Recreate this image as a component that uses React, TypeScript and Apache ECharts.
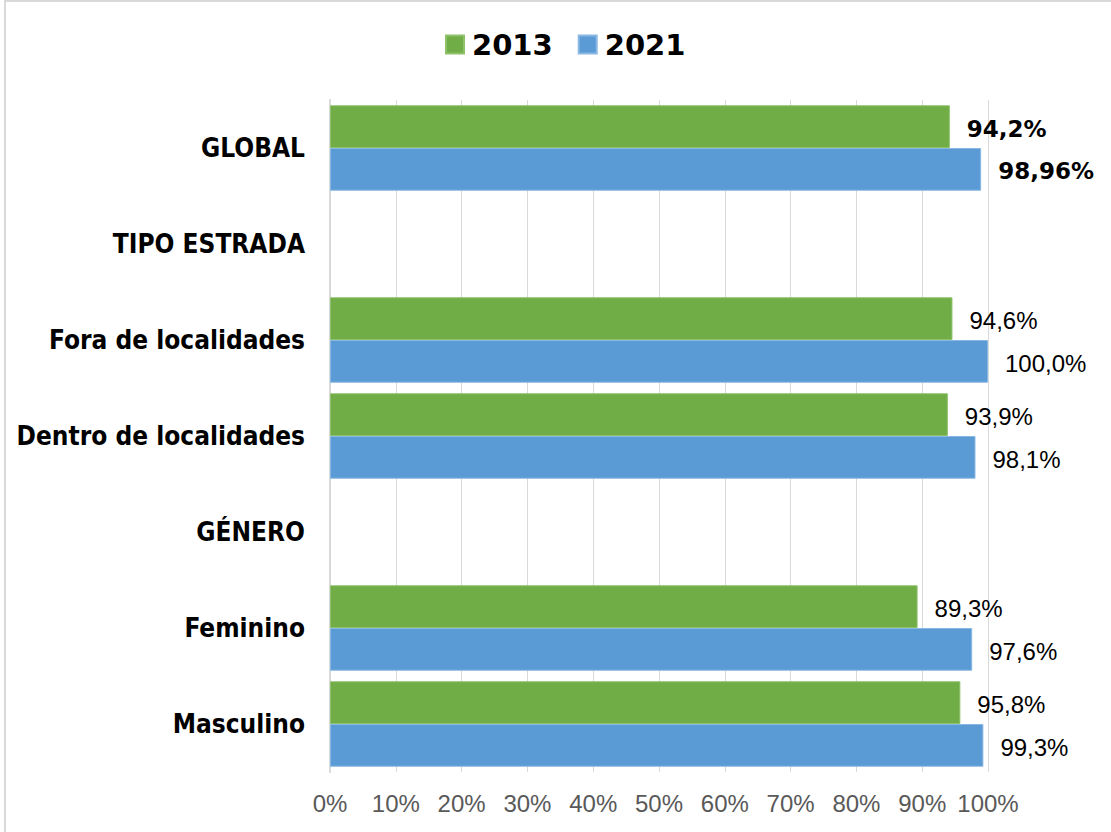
import React, { useEffect, useRef } from "react";
import * as echarts from "echarts";

const categories = [
  "GLOBAL",
  "TIPO ESTRADA",
  "Fora de localidades",
  "Dentro de localidades",
  "GÉNERO",
  "Feminino",
  "Masculino",
];
const seriesNames = ["2013", "2021"];
const values2013: (number | null)[] = [94.2, null, 94.6, 93.9, null, 89.3, 95.8];
const values2021: (number | null)[] = [98.96, null, 100.0, 98.1, null, 97.6, 99.3];
const labels2013 = ["94,2%", "", "94,6%", "93,9%", "", "89,3%", "95,8%"];
const labels2021 = ["98,96%", "", "100,0%", "98,1%", "", "97,6%", "99,3%"];
const boldRows = [true, false, false, false, false, false, false];
const xTicks = [0, 10, 20, 30, 40, 50, 60, 70, 80, 90, 100];

const GREEN = "#70AD47";
const BLUE = "#5B9BD5";

function buildData(values: (number | null)[], labels: string[]) {
  return values.map((v, i) => ({
    value: v,
    label: boldRows[i]
      ? {
          fontFamily: "'DejaVu Sans', sans-serif",
          fontWeight: "bold",
          fontSize: 23,
          formatter: () => labels[i],
        }
      : { formatter: () => labels[i] },
  }));
}

export default function App() {
  const ref = useRef<HTMLDivElement>(null);
  useEffect(() => {
    if (!ref.current) return;
    const chart = echarts.init(ref.current, null, { renderer: "svg" });
    const labelBase = {
      show: true,
      position: "right",
      distance: 17,
      offset: [0, 2],
      color: "#000",
      fontFamily: "'Liberation Sans', Arial, sans-serif",
      fontSize: 24,
    };
    chart.setOption({
      animation: false,
      backgroundColor: "#fff",
      graphic: [
        {
          type: "rect",
          shape: { x: 5, y: 1, width: 1300, height: 1000 },
          style: { fill: "none", stroke: "#d9d9d9", lineWidth: 2 },
          silent: true,
        },
      ],
      legend: {
        data: seriesNames,
        left: 440,
        top: 25,
        itemWidth: 18,
        itemHeight: 18,
        itemGap: 25,
        icon: "rect",
        textStyle: {
          fontFamily: "'DejaVu Sans', sans-serif",
          fontWeight: "bold",
          fontSize: 29,
          color: "#000",
          padding: [0, 0, 0, 3],
        },
      },
      grid: { left: 330, right: 123, top: 100, bottom: 60, containLabel: false },
      xAxis: {
        type: "value",
        min: 0,
        max: 100,
        interval: 10,
        axisLine: { show: false },
        axisTick: { show: false },
        splitLine: { show: true, lineStyle: { color: "#d9d9d9", width: 1 } },
        axisLabel: {
          margin: 19,
          color: "#595959",
          fontFamily: "'Liberation Sans', Arial, sans-serif",
          fontSize: 24,
          formatter: (v: number) => (xTicks.includes(v) ? `${v}%` : ""),
        },
      },
      yAxis: {
        type: "category",
        data: categories,
        inverse: true,
        axisLine: { show: true, lineStyle: { color: "#d9d9d9", width: 2 } },
        axisTick: { show: false },
        axisLabel: {
          margin: 25,
          color: "#000",
          fontFamily: "'DejaVu Sans Condensed', 'Liberation Sans', sans-serif",
          fontWeight: "bold",
          fontSize: 26,
        },
      },
      series: [
        {
          name: seriesNames[0],
          type: "bar",
          data: buildData(values2013, labels2013),
          barGap: "0%",
          barCategoryGap: "11%",
          itemStyle: { color: GREEN, borderColor: "#8dc26b", borderWidth: 1 },
          label: labelBase,
        },
        {
          name: seriesNames[1],
          type: "bar",
          data: buildData(values2021, labels2021),
          barGap: "0%",
          barCategoryGap: "11%",
          itemStyle: { color: BLUE, borderColor: "#8ab8e4", borderWidth: 1 },
          label: labelBase,
        },
      ],
    });
    return () => chart.dispose();
  }, []);
  return (
    <div
      ref={ref}
      style={{ position: "absolute", left: 0, top: 0, width: 1111, height: 832 }}
    />
  );
}
